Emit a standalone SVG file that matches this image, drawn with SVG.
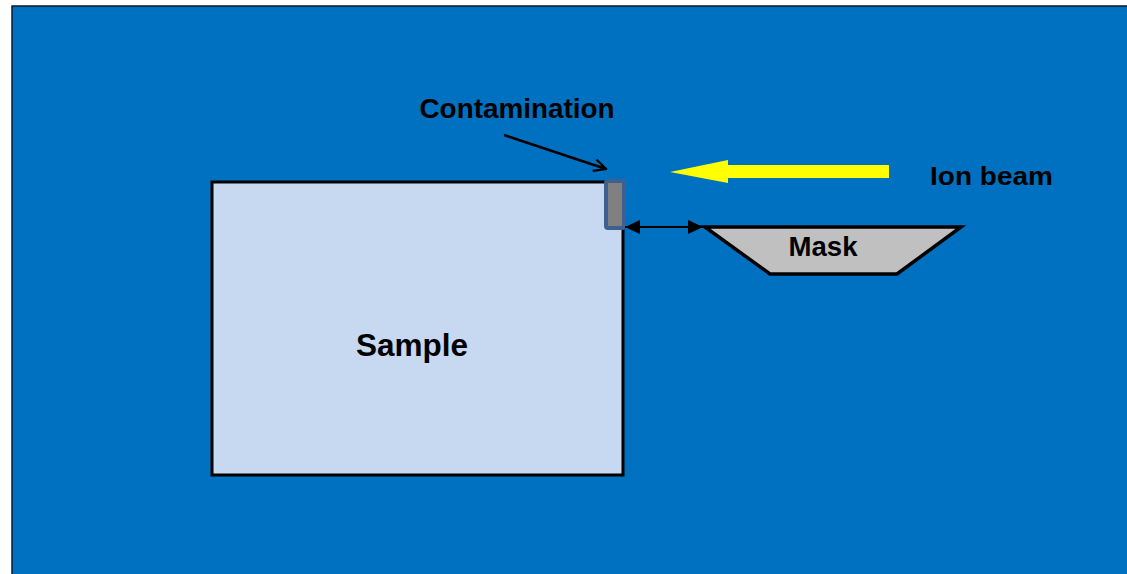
<svg xmlns="http://www.w3.org/2000/svg" width="1127" height="574" viewBox="0 0 1127 574">
<defs>
<style>
.lbl{font-family:"Liberation Sans",Arial,sans-serif;font-weight:bold;fill:#000;}
</style>
<marker id="ah" viewBox="0 0 15 14" refX="15" refY="7" markerWidth="15" markerHeight="14" orient="auto-start-reverse" markerUnits="userSpaceOnUse">
<path d="M0,0 L15,7 L0,14 z" fill="#000"/>
</marker>
<marker id="open" viewBox="0 0 10 10" refX="9" refY="5" markerWidth="6" markerHeight="6" orient="auto" markerUnits="strokeWidth">
<path d="M1,1 L9,5 L1,9" fill="none" stroke="#000" stroke-width="1.5"/>
</marker>
</defs>
<rect x="0" y="0" width="1127" height="574" fill="#fff"/>
<rect id="bg" x="12" y="6" width="1120" height="575" fill="#0070C0" stroke="#0a1a2a" stroke-width="1.5"/>
<g id="sample">
<rect x="212" y="182" width="411" height="293" fill="#C6D9F1" stroke="#000" stroke-width="3"/>
<text class="lbl" x="412" y="356" font-size="32" text-anchor="middle" textLength="112" lengthAdjust="spacingAndGlyphs">Sample</text>
</g>
<g id="contamination">
<rect x="606" y="181" width="18" height="47" rx="2" fill="#808080" stroke="#3F5F8F" stroke-width="4"/>
<text class="lbl" x="517" y="118" font-size="27" text-anchor="middle" textLength="195" lengthAdjust="spacingAndGlyphs">Contamination</text>
</g>
<g id="mask">
<polygon points="705,227 961,227 897,274 770,274" fill="#C0C0C0" stroke="#000" stroke-width="3.5" stroke-linejoin="miter"/>
<text class="lbl" x="823" y="256" font-size="27" text-anchor="middle" textLength="69" lengthAdjust="spacingAndGlyphs">Mask</text>
</g>
<g id="ionbeam">
<polygon points="889,165 728,165 728,160 670,172 728,183 728,178 889,178" fill="#FFFF00"/>
<text class="lbl" x="930" y="185" font-size="26" textLength="123" lengthAdjust="spacingAndGlyphs">Ion beam</text>
</g>
<g id="connectors">
<line x1="625" y1="227" x2="703" y2="227" stroke="#000" stroke-width="2" marker-start="url(#ah)" marker-end="url(#ah)"/>
<line x1="504" y1="135" x2="606" y2="169" stroke="#000" stroke-width="2.5" marker-end="url(#open)"/>
</g>
</svg>
